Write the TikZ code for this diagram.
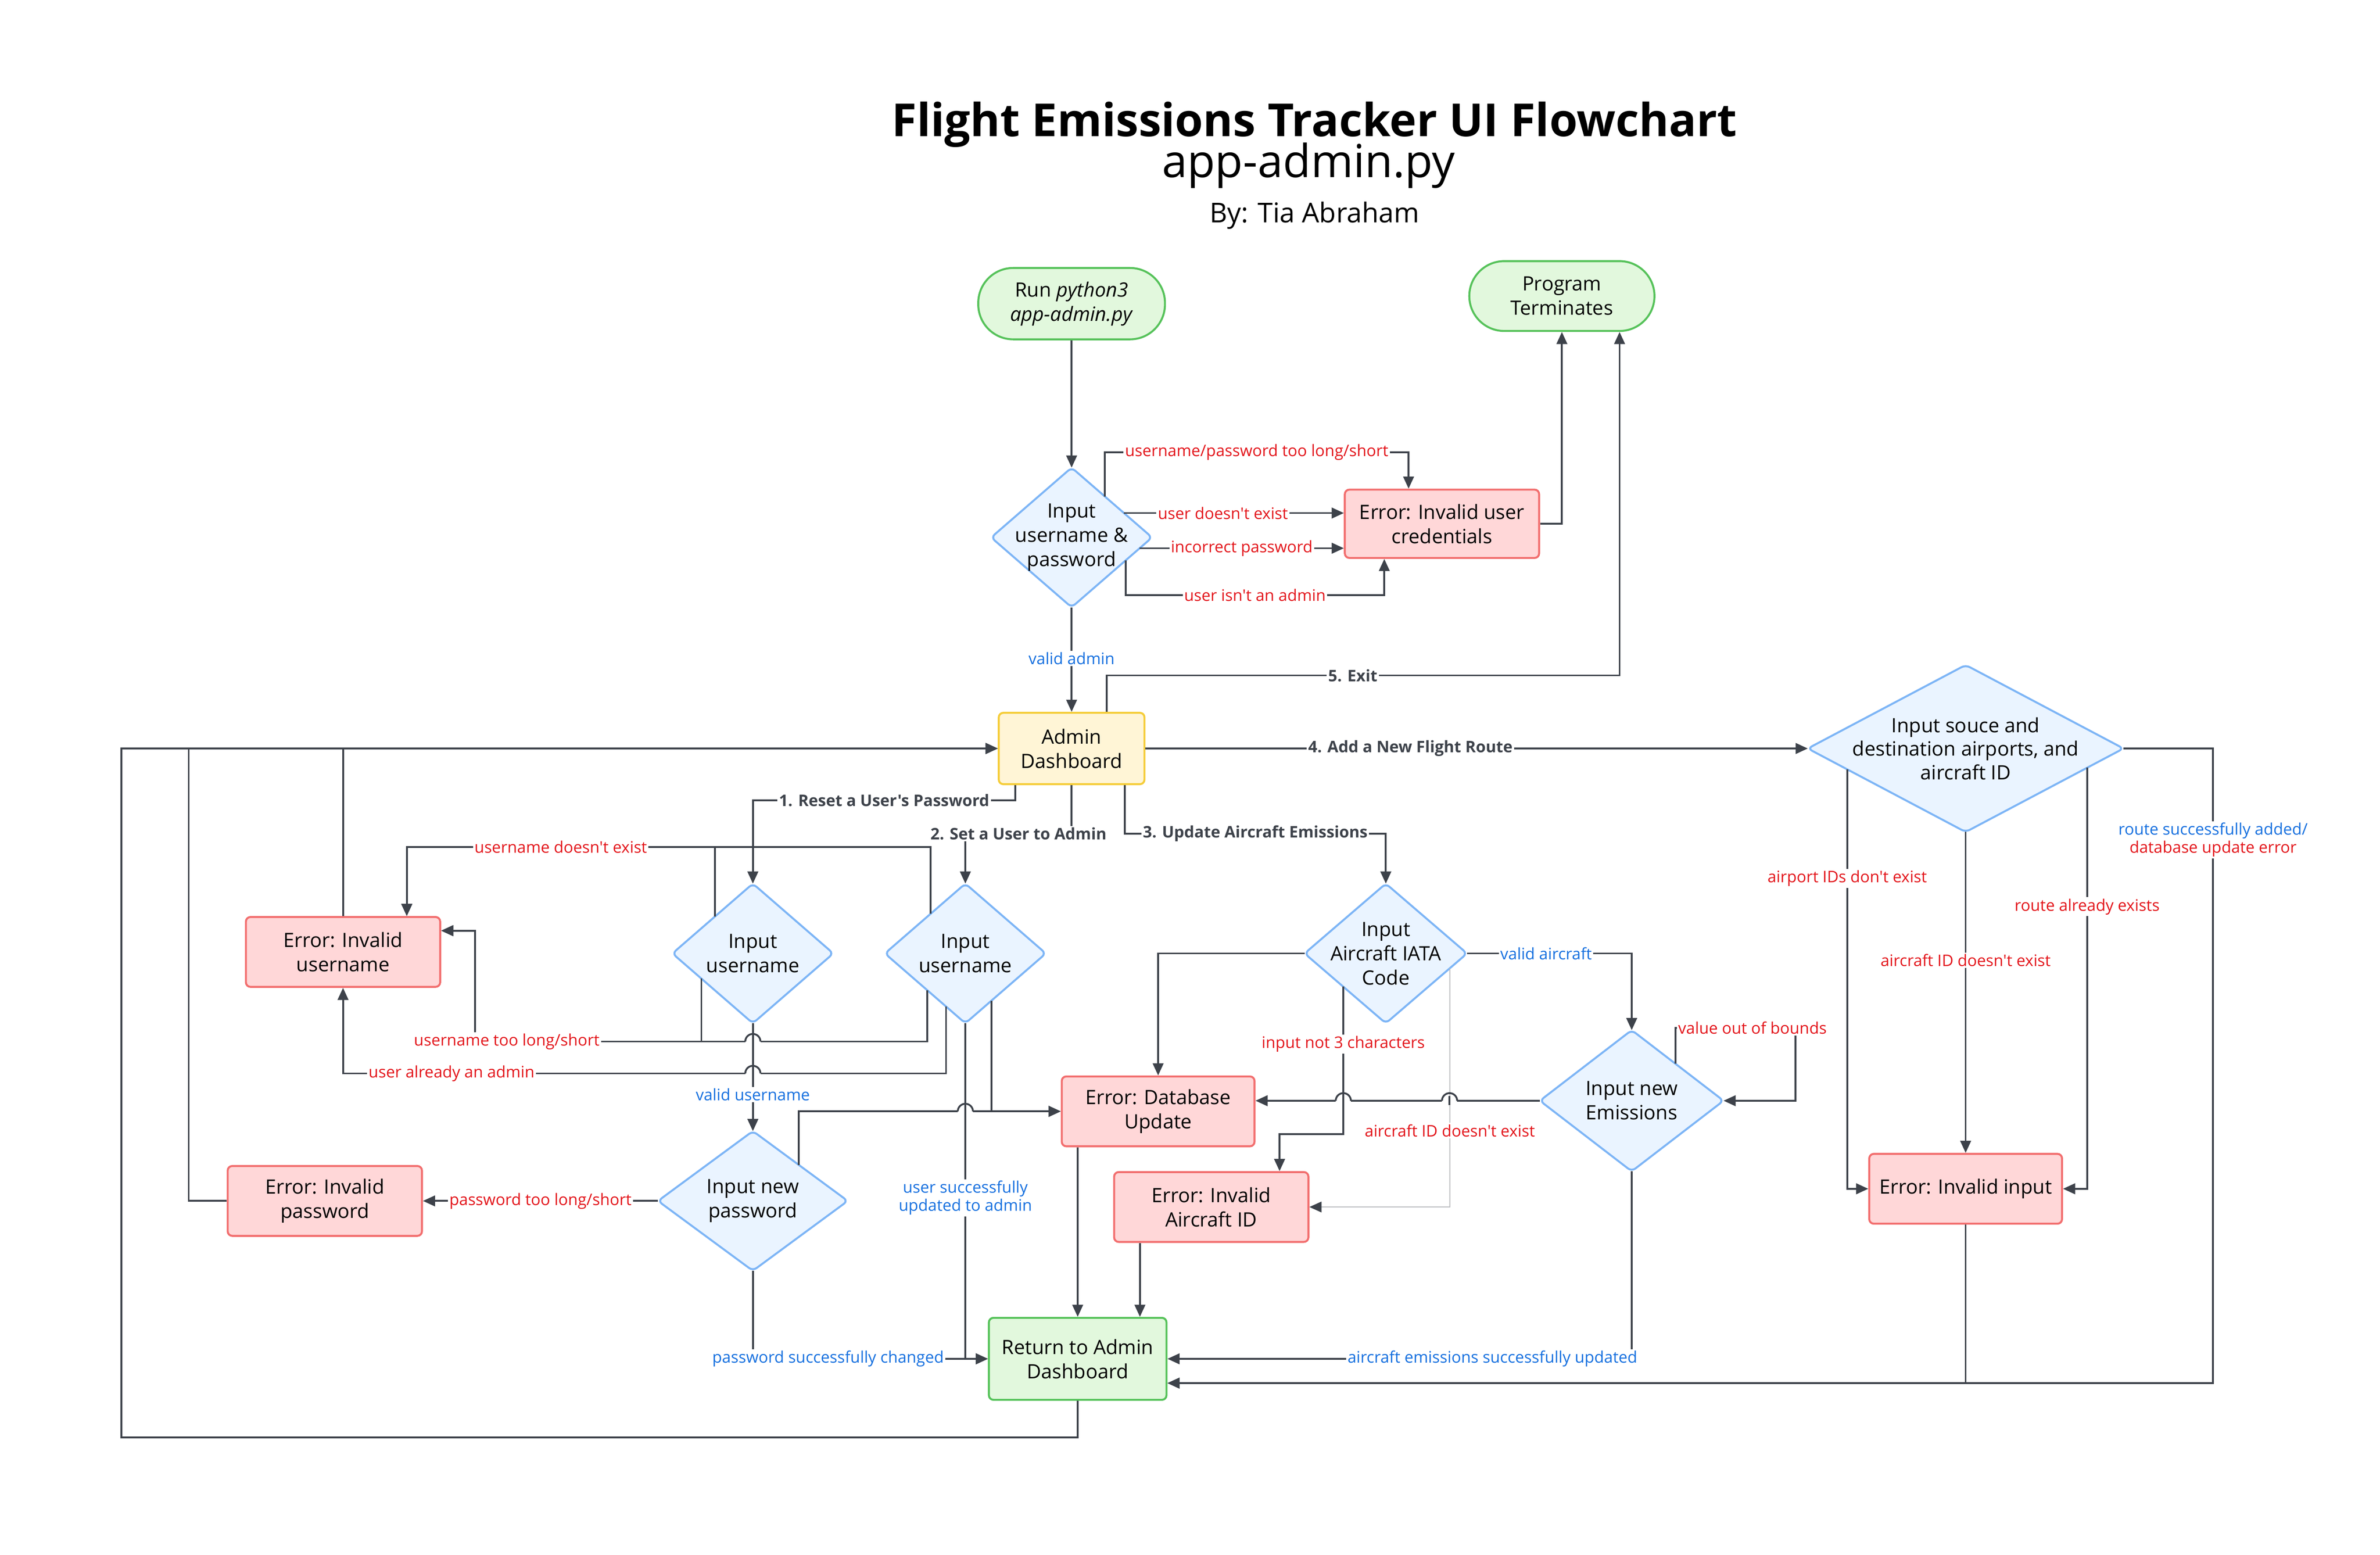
\documentclass[tikz,border=0pt]{standalone}
\usepackage{fontspec}
\setmainfont{Open Sans}[Ligatures=TeXOff]
\usetikzlibrary{arrows.meta}
\usetikzlibrary{shapes.geometric}
\usetikzlibrary{calc}

\definecolor{lineg}{HTML}{3D424A}
\definecolor{termfill}{HTML}{E2F8DD}
\definecolor{termdraw}{HTML}{56C25A}
\definecolor{errfill}{HTML}{FFD7D8}
\definecolor{errdraw}{HTML}{F26E6E}
\definecolor{decfill}{HTML}{EAF4FF}
\definecolor{decdraw}{HTML}{7DB5F6}
\definecolor{dashfill}{HTML}{FFF5D6}
\definecolor{dashdraw}{HTML}{F5CD3A}
\definecolor{txtred}{HTML}{E3151B}
\definecolor{txtblue}{HTML}{1670DF}

\begin{document}
\begin{tikzpicture}[x=1pt, y=-1pt,
  every node/.style={font=\fontsize{13}{16}\selectfont},
  box/.style={rectangle, rounded corners=3pt, line width=1.3pt, align=center, inner sep=0pt},
  term/.style={box, draw=termdraw, fill=termfill, rounded corners=23pt, minimum width=123pt, minimum height=47pt},
  errbox/.style={box, draw=errdraw, fill=errfill, minimum width=128pt, minimum height=46pt},
  dashbox/.style={box, draw=dashdraw, fill=dashfill, minimum width=96pt, minimum height=47pt},
  retbox/.style={box, draw=termdraw, fill=termfill, minimum width=117pt, minimum height=54pt},
  decision/.style n args={2}{diamond, draw=decdraw, fill=decfill, line width=1.3pt, rounded corners=3pt,
    minimum width=#1, minimum height=#2, inner sep=0pt, outer sep=0pt},
  dtext/.style={align=center, inner sep=0pt},
  conn/.style={draw=lineg, line width=1.2pt},
  arr/.style={conn, -{Triangle[length=8pt,width=7pt]}},
  lbl/.style={font=\fontsize{10.5}{12}\selectfont, fill=white, inner sep=1pt},
  rlbl/.style={lbl, text=txtred},
  blbl/.style={lbl, text=txtblue},
  klbl/.style={lbl, text=lineg, font=\fontsize{10.5}{12}\selectfont\bfseries}]

\fill[white] (0,0) rectangle (1568,1024);
\useasboundingbox (0,0) rectangle (1568,1024);

% title
\node[font=\fontsize{30}{36}\selectfont\bfseries] (title) at (866,82) {Flight Emissions Tracker UI Flowchart};
\node[font=\fontsize{30}{36}\selectfont] (file) at (862,109) {app-admin.py};
\node[font=\fontsize{18}{22}\selectfont] (author) at (866,142) {By: Tia Abraham};

% boxes
\node[term] (start) at (706,200) {Run \textit{python3}\\\textit{app-admin.py}};
\node[term, minimum width=122pt, minimum height=46pt] (pt) at (1029,195) {Program\\Terminates};
\node[errbox, minimum height=45pt] (err1) at (950,345) {Error: Invalid user\\credentials};
\node[dashbox] (ad) at (706,493) {Admin\\Dashboard};
\node[errbox] (err2) at (226,627) {Error: Invalid\\username};
\node[errbox] (err3) at (214,791) {Error: Invalid\\password};
\node[errbox, minimum width=127pt] (err4) at (763,732) {Error: Database\\Update};
\node[errbox] (err5) at (798,795) {Error: Invalid\\Aircraft ID};
\node[errbox, minimum width=127pt] (err6) at (1295,783) {Error: Invalid input};
\node[retbox] (ret) at (710,895) {Return to Admin\\Dashboard};

% decisions
\node[decision={106pt}{92pt}] (d1) at (706,354) {};
\node[dtext] (d1t) at (d1) {Input\\username \&\\password};
\node[decision={106pt}{92pt}] (d2) at (496,628) {};
\node[dtext] (d2t) at (d2) {Input\\username};
\node[decision={106pt}{92pt}] (d3) at (636,628) {};
\node[dtext] (d3t) at (d3) {Input\\username};
\node[decision={125pt}{92pt}] (d6) at (496,791) {};
\node[dtext] (d6t) at (d6) {Input new\\password};
\node[decision={107pt}{92pt}] (d4) at (913,628) {};
\node[dtext] (d4t) at (d4) {Input\\Aircraft IATA\\Code};
\node[decision={121pt}{93pt}] (d7) at (1075,725) {};
\node[dtext] (d7t) at (d7) {Input new\\Emissions};
\node[decision={208pt}{110pt}] (d5) at (1295,493) {};
\node[dtext, font=\fontsize{13}{15.5}\selectfont] (d5t) at (d5) {Input souce and\\destination airports, and\\aircraft ID};

% login
\draw[arr] (start) -- (d1);
\draw[arr] (d1.51) -- (d1.51 |- 0,298) -| node[rlbl,pos=0.25]{username/password too long/short} ([xshift=-22pt]err1.north);
\draw[arr] (d1.25) -- node[rlbl,pos=0.45]{user doesn't exist} (d1.25 -| err1.west);
\draw[arr] (d1.-9) -- node[rlbl,pos=0.5]{incorrect password} (d1.-9 -| err1.west);
\draw[arr] (d1.-23) -- (d1.-23 |- 0,392) -| node[rlbl,pos=0.25]{user isn't an admin} ([xshift=-38pt]err1.south);
\draw[arr] (err1.east) -| (pt.south);
\draw[arr] (d1) -- node[blbl,pos=0.49]{valid admin} (ad);

% dashboard menu
\draw[arr] ([xshift=23pt]ad.north) -- ++(0,-24) -| node[klbl,pos=0.24]{5. Exit} ([xshift=38pt]pt.south);
\draw[arr] (ad.east) -- node[klbl,pos=0.40]{4. Add a New Flight Route} (d5.west);
\draw[arr] ([xshift=-37pt]ad.south) -- ++(0,10) -| node[klbl,pos=0.25]{1. Reset a User's Password} (d2.north);
\draw[arr] (ad.south) -- ++(0,32) -| node[klbl,pos=0.25]{2. Set a User to Admin} (d3.north);
\draw[arr] ([xshift=35pt]ad.south) -- ++(0,32) -| node[klbl,pos=0.25]{3. Update Aircraft Emissions} (d4.north);

% back to dashboard
\draw[arr] (ret.south) -- ++(0,24) -| (80,493) -- (ad.west);
\draw[arr] (err3.west) -- ++(-25,0) |- (ad.west);
\draw[arr] (err2.north) |- (ad.west);

% users
\draw[arr] (d3.131) -- (d3.131 |- 0,558) -| ([xshift=42pt]err2.north);
\draw[arr] (d2.136) -- (d2.136 |- 0,558) -| node[rlbl,pos=0.25]{username doesn't exist} ([xshift=42pt]err2.north);
\draw[arr] (d3.224) |- (313,686) |- ([yshift=14pt]err2.east);
\draw[arr] (d2.206) |- node[rlbl,pos=0.93]{username too long/short} (313,686) |- ([yshift=14pt]err2.east);
\draw[arr] (d3.250) -- (d3.250 |- 0,707) -| node[rlbl,pos=0.41]{user already an admin} (err2.south);
\draw[arr] (d2.south) -- node[blbl,pos=0.66]{valid username} (d6.north);
\draw[arr] (d3.-61) |- (err4.west);
\draw[arr] (d6.38) |- (err4.west);
\draw[arr] (d3.south) |- node[blbl,pos=0.26,align=center]{user successfully\\updated to admin} (ret.west);
\draw[arr] (d6.west) -- node[rlbl]{password too long/short} (err3.east);
\draw[arr] (d6.south) |- node[blbl,pos=0.66]{password successfully changed} (ret.west);

% aircraft emissions
\coordinate (retin) at ([xshift=41pt]ret.north);
\draw[arr] (ret.north |- err4.south) -- (ret.north);
\draw[arr] (retin |- err5.south) -- (retin);
\draw[arr] (d4.west) -| (err4.north);
\draw[arr] (d4.east) -| node[blbl,pos=0.24]{valid aircraft} (d7.north);
\draw[arr] (d4.218) -- node[rlbl,pos=0.39]{input not 3 characters} (d4.218 |- 0,747) -| ([xshift=45pt]err5.north);
\draw[arr, draw=lineg!35, line width=0.8pt, -{Triangle[length=8pt,width=7pt,color=lineg]}] (d4.-13) |- node[rlbl,pos=0.34]{aircraft ID doesn't exist} (err5.east);
\draw[arr] (d7.west) -- (d7.west -| err4.east);
\draw[arr] (d7.40) |- node[rlbl,pos=0.82]{value out of bounds} (1183,677) |- (d7.east);
\draw[arr] (d7.south) |- node[blbl,pos=0.65]{aircraft emissions successfully updated} (ret.east);

% flight route
\draw[arr] (d5.190) |- node[rlbl,pos=0.13]{airport IDs don't exist} (err6.west);
\draw[arr] (d5.south) -- node[rlbl,pos=0.4]{aircraft ID doesn't exist} (err6.north);
\draw[arr] (d5.-9) |- node[rlbl,pos=0.165]{route already exists} (err6.east);
\draw[arr] (err6.south) |- ([yshift=-16pt]ret.east);
\draw[arr] (d5.east) -- ++(59,0) |- node[lbl,pos=0.072,align=center]{\textcolor{txtblue}{route successfully added/}\\\textcolor{txtred}{database update error}} ([yshift=-16pt]ret.east);

% line hops
\foreach \hx/\hy in {496/686, 496/707, 636/732, 885/725, 955/725} {
  \fill[white] (\hx-5,\hy-1.2) rectangle (\hx+5,\hy+1.2);
  \draw[conn] (\hx,\hy-3) -- (\hx,\hy+3);
  \draw[conn] (\hx-5,\hy) arc[start angle=180, end angle=360, radius=5];
}
\end{tikzpicture}
\end{document}
